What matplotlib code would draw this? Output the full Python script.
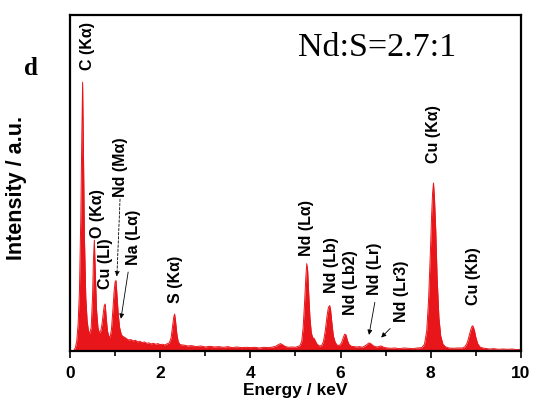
import matplotlib
matplotlib.use("Agg")
import numpy as np
import matplotlib.pyplot as plt
from matplotlib.ticker import MultipleLocator, NullLocator

# EDS spectrum, read in segments (energy in keV, intensity in a.u.)
e_low = [0.08, 0.12, 0.15, 0.18, 0.21, 0.24, 0.26, 0.28, 0.30, 0.32, 0.35, 0.38, 0.41, 0.44,
         0.47, 0.50, 0.52, 0.54, 0.56, 0.59, 0.62, 0.65, 0.68, 0.71, 0.74, 0.76, 0.78, 0.80,
         0.83, 0.86, 0.89, 0.92, 0.95, 0.98, 1.00, 1.02, 1.04, 1.07, 1.10, 1.14, 1.18, 1.22,
         1.26, 1.30, 1.35]
i_low = [0.0, 1.0, 3.0, 8.0, 18.0, 40.0, 62.0, 80.0, 58.0, 34.0, 16.0, 9.0, 6.0, 5.2,
         7.0, 16.0, 27.0, 33.0, 24.0, 12.0, 7.0, 5.4, 5.8, 8.0, 11.5, 13.5, 14.0, 10.5,
         6.0, 4.5, 4.0, 6.5, 12.0, 18.0, 20.5, 21.0, 17.0, 11.0, 7.0, 4.8, 4.3, 4.0,
         3.6, 3.3, 3.4]

e_mid = [1.40, 1.45, 1.50, 1.55, 1.60, 1.65, 1.70, 1.75, 1.80, 1.85, 1.90, 1.95, 2.00,
         2.05, 2.10, 2.15, 2.20, 2.24, 2.27, 2.30, 2.32, 2.34, 2.37, 2.40, 2.44, 2.49,
         2.55, 2.60, 2.70, 2.80, 2.90, 3.00, 3.10, 3.20, 3.30, 3.40, 3.50, 3.60, 3.70,
         3.80, 3.90, 4.00, 4.10, 4.20, 4.30, 4.40, 4.50, 4.56, 4.62, 4.67, 4.72, 4.78,
         4.85, 4.92, 5.00, 5.06]
i_mid = [3.0, 3.2, 2.7, 2.9, 2.5, 2.7, 2.3, 2.4, 2.1, 2.3, 2.0, 2.2, 1.9,
         2.0, 1.8, 2.1, 2.4, 3.8, 7.0, 10.0, 11.0, 9.0, 5.0, 2.8, 1.9, 1.8,
         1.7, 1.5, 1.6, 1.3, 1.5, 1.2, 1.4, 1.2, 1.3, 1.1, 1.3, 1.0, 1.2,
         1.0, 1.1, 1.0, 1.1, 0.9, 1.1, 1.0, 1.2, 1.4, 1.9, 2.2, 1.8, 1.3,
         1.1, 1.2, 1.1, 1.4]

e_nd = [5.10, 5.14, 5.17, 5.20, 5.23, 5.25, 5.27, 5.29, 5.32, 5.35, 5.38, 5.41, 5.44,
        5.48, 5.53, 5.58, 5.62, 5.66, 5.70, 5.73, 5.76, 5.78, 5.81, 5.84, 5.88, 5.92,
        5.97, 6.02, 6.06, 6.09, 6.12, 6.15, 6.19, 6.24, 6.30, 6.36, 6.42, 6.48, 6.54,
        6.59, 6.63, 6.67, 6.72, 6.77, 6.82, 6.86, 6.90, 6.94, 6.99]
i_nd = [1.6, 3.0, 7.0, 14.0, 22.0, 26.0, 24.0, 18.0, 10.0, 5.5, 4.0, 3.8, 3.0,
        2.0, 1.5, 1.6, 2.8, 6.0, 10.5, 13.0, 13.5, 12.0, 8.0, 4.5, 2.6, 1.8,
        1.6, 2.4, 4.0, 5.0, 4.8, 3.2, 1.9, 1.4, 1.3, 1.2, 1.3, 1.1, 1.5,
        2.0, 2.4, 2.2, 1.6, 1.3, 1.2, 1.4, 1.5, 1.2, 1.0]

e_cu = [7.10, 7.20, 7.30, 7.40, 7.50, 7.60, 7.70, 7.80, 7.86, 7.91, 7.95, 7.99, 8.02,
        8.04, 8.06, 8.08, 8.11, 8.14, 8.18, 8.22, 8.27, 8.33, 8.40, 8.50, 8.60, 8.70,
        8.76, 8.81, 8.85, 8.89, 8.92, 8.94, 8.97, 9.00, 9.04, 9.09, 9.15, 9.20, 9.30,
        9.40, 9.50, 9.60, 9.70, 9.80, 9.90, 10.00]
i_cu = [0.8, 0.9, 0.7, 0.9, 0.8, 0.7, 0.9, 1.0, 2.0, 6.0, 15.0, 29.0, 41.0,
        47.0, 50.0, 46.0, 36.0, 22.0, 10.0, 4.5, 2.0, 1.2, 0.9, 0.8, 0.9, 0.9,
        1.3, 2.5, 4.5, 6.5, 7.5, 7.3, 6.0, 4.0, 2.2, 1.2, 0.9, 0.8, 0.6,
        0.7, 0.5, 0.6, 0.5, 0.6, 0.4, 0.5]

energy = np.array(e_low + e_mid + e_nd + e_cu)
intensity = np.array(i_low + i_mid + i_nd + i_cu)

# peak labels: text, x (keV), y of label bottom
label_text = ["C (Kα)", "O (Kα)", "Cu (Ll)", "Nd (Mα)", "Na (Lα)", "S (Kα)",
              "Nd (Lα)", "Nd (Lb)", "Nd (Lb2)", "Nd (Lr)", "Nd (Lr3)", "Cu (Kα)", "Cu (Kb)"]
label_x = [0.38, 0.60, 0.78, 1.11, 1.40, 2.35, 5.25, 5.79, 6.21, 6.76, 7.36, 8.05, 8.94]
label_y = [83.6, 33.6, 18.5, 45.8, 25.6, 14.3, 28.3, 17.3, 10.7, 16.7, 8.6, 56.0, 13.7]

# arrows: start and end in data coords, first one dashed
arrow_start = [(1.11, 45.2), (1.29, 23.5), (6.76, 14.5), (7.10, 6.7)]
arrow_end = [(1.04, 22.2), (1.13, 9.6), (6.63, 4.8), (6.90, 4.0)]
arrow_dashed = [True, False, False, False]

red = "#e8161b"
sans = ["Liberation Sans", "DejaVu Sans"]

fig = plt.figure(figsize=(5.35, 4.01), dpi=100)
ax = fig.add_axes([0.1308, 0.1247, 0.8430, 0.8379])

ax.fill_between(energy, 0, intensity, color=red, lw=0)
ax.plot(energy, intensity, color=red, lw=0.7)

ax.set_xlim(0, 10)
ax.set_ylim(0, 100)
ax.xaxis.set_major_locator(MultipleLocator(2))
ax.xaxis.set_minor_locator(MultipleLocator(1))
ax.yaxis.set_major_locator(NullLocator())
ax.tick_params(axis="x", which="major", direction="out", length=5, width=1.2, pad=6)
ax.tick_params(axis="x", which="minor", direction="out", length=3.5, width=1.2)
for spine in ax.spines.values():
    spine.set_linewidth(1.6)

for lbl in ax.get_xticklabels():
    lbl.set_fontfamily(sans)
    lbl.set_fontweight("bold")
    lbl.set_fontsize(12.5)

ax.set_xlabel("Energy / keV", fontfamily=sans, fontweight="bold", fontsize=12.5, labelpad=1)
ax.set_ylabel("Intensity / a.u.", fontfamily=sans, fontweight="bold", fontsize=15.5)
ax.yaxis.set_label_coords(-0.095, 0.485)

for t, x, y in zip(label_text, label_x, label_y):
    ax.text(x, y, t, rotation=90, ha="center", va="bottom",
            fontfamily=sans, fontweight="bold", fontsize=11.5)

for (x0, y0), (x1, y1), dashed in zip(arrow_start, arrow_end, arrow_dashed):
    ax.annotate("", xy=(x1, y1), xytext=(x0, y0),
                arrowprops=dict(arrowstyle="-|>", color="black", lw=0.6,
                                linestyle=(0, (3, 2)) if dashed else "-",
                                mutation_scale=7, shrinkA=0, shrinkB=0))

fig.text(0.058, 0.83, "d", fontfamily="Liberation Serif", fontweight="bold",
         fontsize=18, ha="center", va="center")
fig.text(0.557, 0.882, "Nd:S=2.7:1", fontfamily="Liberation Serif",
         fontsize=24.5, ha="left", va="center")

fig.savefig("out.png", dpi=100)
